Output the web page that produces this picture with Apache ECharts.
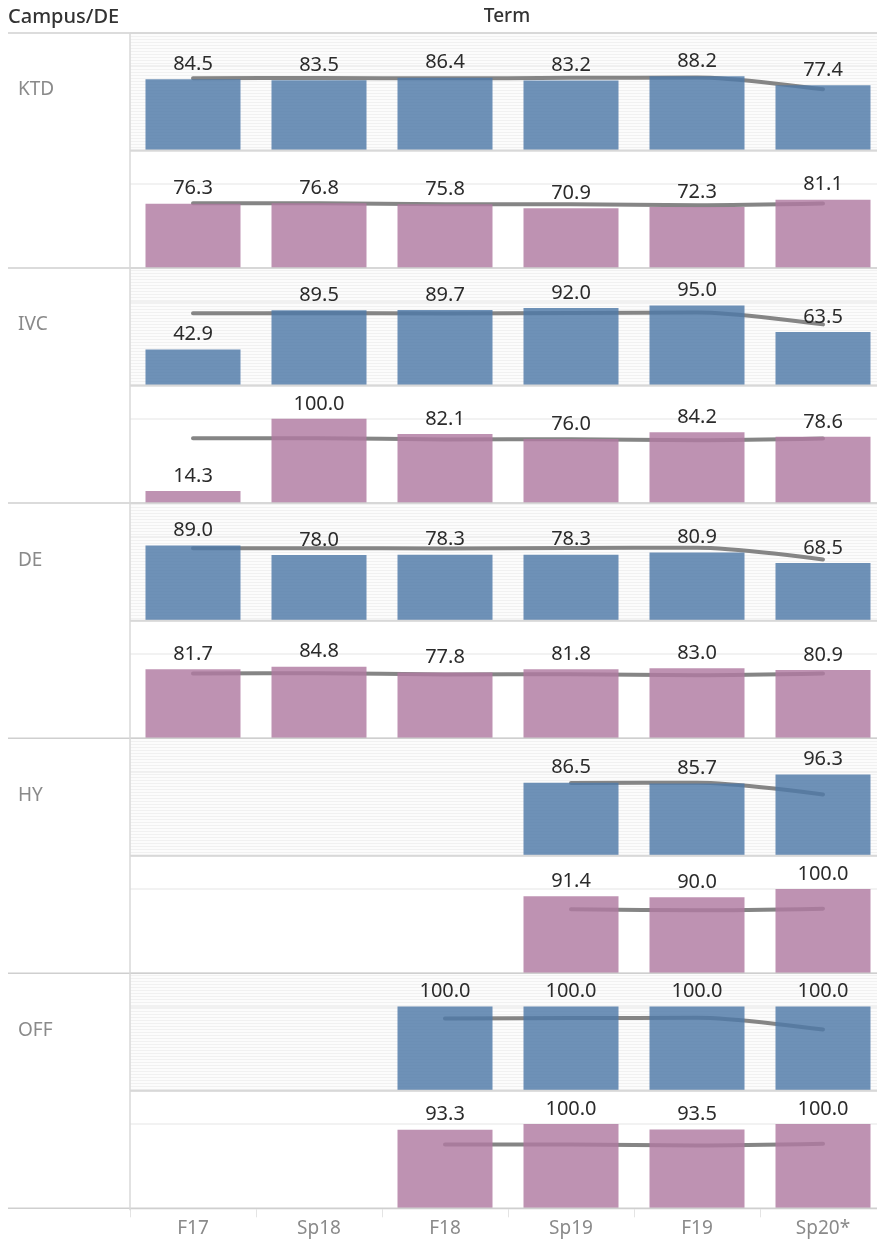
<!DOCTYPE html>
<html>
<head>
<meta charset="utf-8">
<script src="https://cdn.jsdelivr.net/npm/echarts@6/dist/echarts.min.js"></script>
<style>
html,body{margin:0;padding:0;background:#fff;}
#chart{width:877px;height:1245px;}
</style>
</head>
<body>
<div id="chart"></div>
<script>
// ---- data ----
const terms = ['F17', 'Sp18', 'F18', 'Sp19', 'F19', 'Sp20*'];
const campuses = ['KTD', 'IVC', 'DE', 'HY', 'OFF'];
const ktdBlue   = [84.5, 83.5, 86.4, 83.2, 88.2, 77.4];
const ktdPurple = [76.3, 76.8, 75.8, 70.9, 72.3, 81.1];
const ivcBlue   = [42.9, 89.5, 89.7, 92.0, 95.0, 63.5];
const ivcPurple = [14.3, 100.0, 82.1, 76.0, 84.2, 78.6];
const deBlue    = [89.0, 78.0, 78.3, 78.3, 80.9, 68.5];
const dePurple  = [81.7, 84.8, 77.8, 81.8, 83.0, 80.9];
const hyBlue    = [null, null, null, 86.5, 85.7, 96.3];
const hyPurple  = [null, null, null, 91.4, 90.0, 100.0];
const offBlue   = [null, null, 100.0, 100.0, 100.0, 100.0];
const offPurple = [null, null, 93.3, 100.0, 93.5, 100.0];
// grey comparison line (same for every campus, per group)
const refBlue   = [85.8, 86.0, 85.6, 86.2, 86.6, 72.6];
const refPurple = [76.8, 77.0, 75.6, 75.8, 74.6, 76.6];

const panels = [
  {campus: 'KTD', vals: ktdBlue,   ref: refBlue,   group: 0},
  {campus: 'KTD', vals: ktdPurple, ref: refPurple, group: 1},
  {campus: 'IVC', vals: ivcBlue,   ref: refBlue,   group: 0},
  {campus: 'IVC', vals: ivcPurple, ref: refPurple, group: 1},
  {campus: 'DE',  vals: deBlue,    ref: refBlue,   group: 0},
  {campus: 'DE',  vals: dePurple,  ref: refPurple, group: 1},
  {campus: 'HY',  vals: hyBlue,    ref: refBlue,   group: 0},
  {campus: 'HY',  vals: hyPurple,  ref: refPurple, group: 1},
  {campus: 'OFF', vals: offBlue,   ref: refBlue,   group: 0},
  {campus: 'OFF', vals: offPurple, ref: refPurple, group: 1}
];

// ---- styling ----
const FONT = '"Noto Sans", "DejaVu Sans", sans-serif';
const barColors = ['rgba(78,121,167,0.82)', 'rgba(176,122,161,0.82)'];
const TOP0 = 33, PH = 117.53, LEFT = 130, GW = 756;
const YMAX = 139.4;

// striped band pattern
const pc = document.createElement('canvas');
pc.width = 8; pc.height = 3;
const pctx = pc.getContext('2d');
pctx.fillStyle = '#fcfcfc'; pctx.fillRect(0, 0, 8, 3);
pctx.fillStyle = '#f1f1f1'; pctx.fillRect(0, 0, 8, 1);

const chart = echarts.init(document.getElementById('chart'), null, {renderer: 'canvas'});

const grids = [], xAxes = [], yAxes = [], series = [];
panels.forEach((p, i) => {
  const top = TOP0 + i * PH;
  grids.push({
    left: LEFT, width: GW, top: top, height: PH,
    outerBoundsMode: 'none', containLabel: false,
    show: p.group === 0, borderWidth: 0,
    backgroundColor: p.group === 0 ? {image: pc, repeat: 'repeat'} : 'transparent'
  });
  const last = i === panels.length - 1;
  xAxes.push({
    type: 'category', gridIndex: i, data: terms,
    axisLine: {show: false},
    axisTick: {show: last, length: 9, lineStyle: {color: '#e4e4e4', width: 1}},
    axisLabel: {show: last, margin: 11, fontSize: 19, color: '#8a8a8a', fontFamily: FONT},
    splitLine: {show: false}
  });
  yAxes.push({
    type: 'value', gridIndex: i, min: 0, max: YMAX, interval: 100,
    axisLine: {show: false}, axisTick: {show: false}, axisLabel: {show: false},
    splitLine: {show: true, lineStyle: {color: '#eeeeee', width: 1.5}}
  });
  series.push({
    type: 'line', xAxisIndex: i, yAxisIndex: i, z: 2,
    data: p.vals.map((v, k) => v == null ? null : p.ref[k]),
    smooth: 0.3, showSymbol: false, symbol: 'none', connectNulls: false,
    lineStyle: {color: '#858585', width: 4, cap: 'round'},
    silent: true
  });
  series.push({
    type: 'bar', xAxisIndex: i, yAxisIndex: i, z: 3,
    data: p.vals, barWidth: 95,
    itemStyle: {color: barColors[p.group]},
    label: {
      show: true, position: 'top', distance: 5,
      fontSize: 20, color: '#2b2b2b', fontFamily: FONT,
      formatter: (d) => d.value == null ? '' : d.value.toFixed(1)
    },
    silent: true
  });
});

// graphic separators and header texts
const graphics = [];
const W = 877;
graphics.push({type: 'text', x: 8, y: 17, style: {text: 'Campus/DE', fontSize: 20, fontWeight: 500, fill: '#333', fontFamily: FONT, verticalAlign: 'middle'}});
graphics.push({type: 'text', x: 507, y: 17, style: {text: 'Term', fontSize: 19, fontWeight: 500, fill: '#333', fontFamily: FONT, align: 'center', verticalAlign: 'middle'}});
graphics.push({type: 'line', shape: {x1: 8, y1: TOP0, x2: W, y2: TOP0}, style: {stroke: '#d0d0d0', lineWidth: 1.5}, z: 10});
for (let i = 1; i <= panels.length; i++) {
  const y = TOP0 + i * PH;
  const rowEnd = i % 2 === 0;
  graphics.push({type: 'line', shape: {x1: rowEnd ? 8 : LEFT, y1: y, x2: W, y2: y},
    style: {stroke: rowEnd ? '#cfcfcf' : '#d8d8d8', lineWidth: rowEnd ? 1.5 : 2}, z: 10});
}
graphics.push({type: 'line', shape: {x1: LEFT, y1: TOP0, x2: LEFT, y2: TOP0 + panels.length * PH + 2}, style: {stroke: '#d8d8d8', lineWidth: 1.5}, z: 10});
campuses.forEach((c, r) => {
  graphics.push({type: 'text', x: 18, y: TOP0 + r * 2 * PH + 57, style: {text: c, fontSize: 19, fill: '#8a8a8a', fontFamily: FONT, verticalAlign: 'middle'}});
});

chart.setOption({
  animation: false,
  backgroundColor: '#ffffff',
  grid: grids, xAxis: xAxes, yAxis: yAxes, series: series,
  graphic: graphics
});
</script>
</body>
</html>
